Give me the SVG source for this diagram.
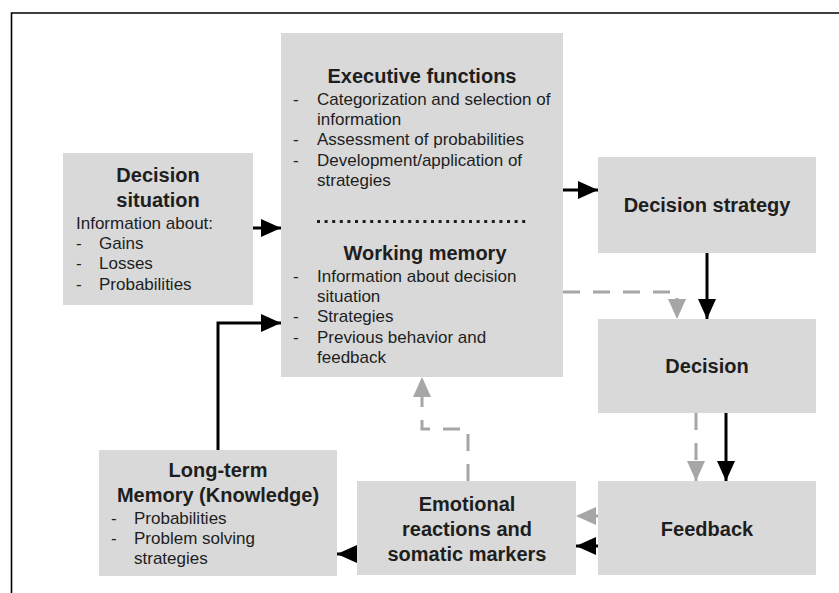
<svg xmlns="http://www.w3.org/2000/svg" width="839" height="593" viewBox="0 0 839 593">
  <style>
    .box { fill: #d9d9d9; }
    .t { font-family: "Liberation Sans", Arial, sans-serif; fill: #1e1e1e; }
    .h { font-size: 20px; font-weight: bold; text-anchor: middle; }
    .b { font-size: 17px; }
    .solid { fill: none; stroke: #000; stroke-width: 3; }
    .dash { fill: none; stroke: #a6a6a6; stroke-width: 3; stroke-dasharray: 17 13; }
    .frame { fill: none; stroke: #000; stroke-width: 1.6; }
    .dots { fill: none; stroke: #1e1e1e; stroke-width: 3; stroke-dasharray: 3 4.6; }
  </style>
  <defs>
    <marker id="headBlack" viewBox="0 0 20 18" refX="20" refY="9" markerWidth="20" markerHeight="18" markerUnits="userSpaceOnUse" orient="auto">
      <path d="M0,0 L20,9 L0,18 z" fill="#000"/>
    </marker>
    <marker id="headGray" viewBox="0 0 20 18" refX="20" refY="9" markerWidth="20" markerHeight="18" markerUnits="userSpaceOnUse" orient="auto">
      <path d="M0,0 L20,9 L0,18 z" fill="#a6a6a6"/>
    </marker>
  </defs>

  <rect width="839" height="593" fill="#fff"/>
  <path class="frame" d="M11.5,593 V13 H839"/>

  <g id="executive-working-memory">
    <rect class="box" x="281" y="33" width="282" height="344"/>
    <text class="t h" x="422" y="83">Executive functions</text>
    <text class="t b" x="293" y="105">-</text>
    <text class="t b" x="317" y="105">Categorization and selection of</text>
    <text class="t b" x="317" y="125.2">information</text>
    <text class="t b" x="293" y="145.4">-</text>
    <text class="t b" x="317" y="145.4">Assessment of probabilities</text>
    <text class="t b" x="293" y="165.6">-</text>
    <text class="t b" x="317" y="165.6">Development/application of</text>
    <text class="t b" x="317" y="185.8">strategies</text>
    <path class="dots" d="M317,221.5 H528"/>
    <text class="t h" x="425" y="260">Working memory</text>
    <text class="t b" x="293" y="282">-</text>
    <text class="t b" x="317" y="282">Information about decision</text>
    <text class="t b" x="317" y="302">situation</text>
    <text class="t b" x="293" y="322">-</text>
    <text class="t b" x="317" y="322">Strategies</text>
    <text class="t b" x="293" y="342.5">-</text>
    <text class="t b" x="317" y="342.5">Previous behavior and</text>
    <text class="t b" x="317" y="363">feedback</text>
  </g>

  <g id="decision-situation">
    <rect class="box" x="63" y="153" width="190" height="152"/>
    <text class="t h" x="158" y="182">Decision</text>
    <text class="t h" x="158" y="207">situation</text>
    <text class="t b" x="76" y="228.5">Information about:</text>
    <text class="t b" x="76" y="248.5">-</text>
    <text class="t b" x="99" y="248.5">Gains</text>
    <text class="t b" x="76" y="269">-</text>
    <text class="t b" x="99" y="269">Losses</text>
    <text class="t b" x="76" y="289.5">-</text>
    <text class="t b" x="99" y="289.5">Probabilities</text>
  </g>

  <g id="decision-strategy">
    <rect class="box" x="598" y="157" width="218" height="96"/>
    <text class="t h" x="707" y="212">Decision strategy</text>
  </g>

  <g id="decision">
    <rect class="box" x="598" y="319" width="218" height="94"/>
    <text class="t h" x="707" y="373">Decision</text>
  </g>

  <g id="feedback">
    <rect class="box" x="598" y="481" width="218" height="94"/>
    <text class="t h" x="707" y="535.5">Feedback</text>
  </g>

  <g id="emotional-reactions">
    <rect class="box" x="357" y="481" width="219" height="94"/>
    <text class="t h" x="467" y="511">Emotional</text>
    <text class="t h" x="467" y="536">reactions and</text>
    <text class="t h" x="467" y="560.5">somatic markers</text>
  </g>

  <g id="long-term-memory">
    <rect class="box" x="99" y="450" width="238" height="126"/>
    <text class="t h" x="218" y="477">Long-term</text>
    <text class="t h" x="218" y="502">Memory (Knowledge)</text>
    <text class="t b" x="111" y="523.5">-</text>
    <text class="t b" x="134" y="523.5">Probabilities</text>
    <text class="t b" x="111" y="544">-</text>
    <text class="t b" x="134" y="544">Problem solving</text>
    <text class="t b" x="134" y="564">strategies</text>
  </g>

  <g id="connectors">
    <path class="solid" d="M253,228 H281" marker-end="url(#headBlack)"/>
    <path class="solid" d="M563,190 H598" marker-end="url(#headBlack)"/>
    <path class="solid" d="M707,253 V319" marker-end="url(#headBlack)"/>
    <path class="dash" d="M563,292 H677 V319" marker-end="url(#headGray)"/>
    <path class="dash" d="M696,413 V481" marker-end="url(#headGray)"/>
    <path class="solid" d="M726,413 V481" marker-end="url(#headBlack)"/>
    <path class="dash" d="M598,516 H576" marker-end="url(#headGray)"/>
    <path class="solid" d="M598,546 H576" marker-end="url(#headBlack)"/>
    <path class="solid" d="M357,554 H337" marker-end="url(#headBlack)"/>
    <path class="dash" d="M468,481 V429 H422 V377" marker-end="url(#headGray)"/>
    <path class="solid" d="M218,450 V323 H281" marker-end="url(#headBlack)"/>
  </g>
</svg>
